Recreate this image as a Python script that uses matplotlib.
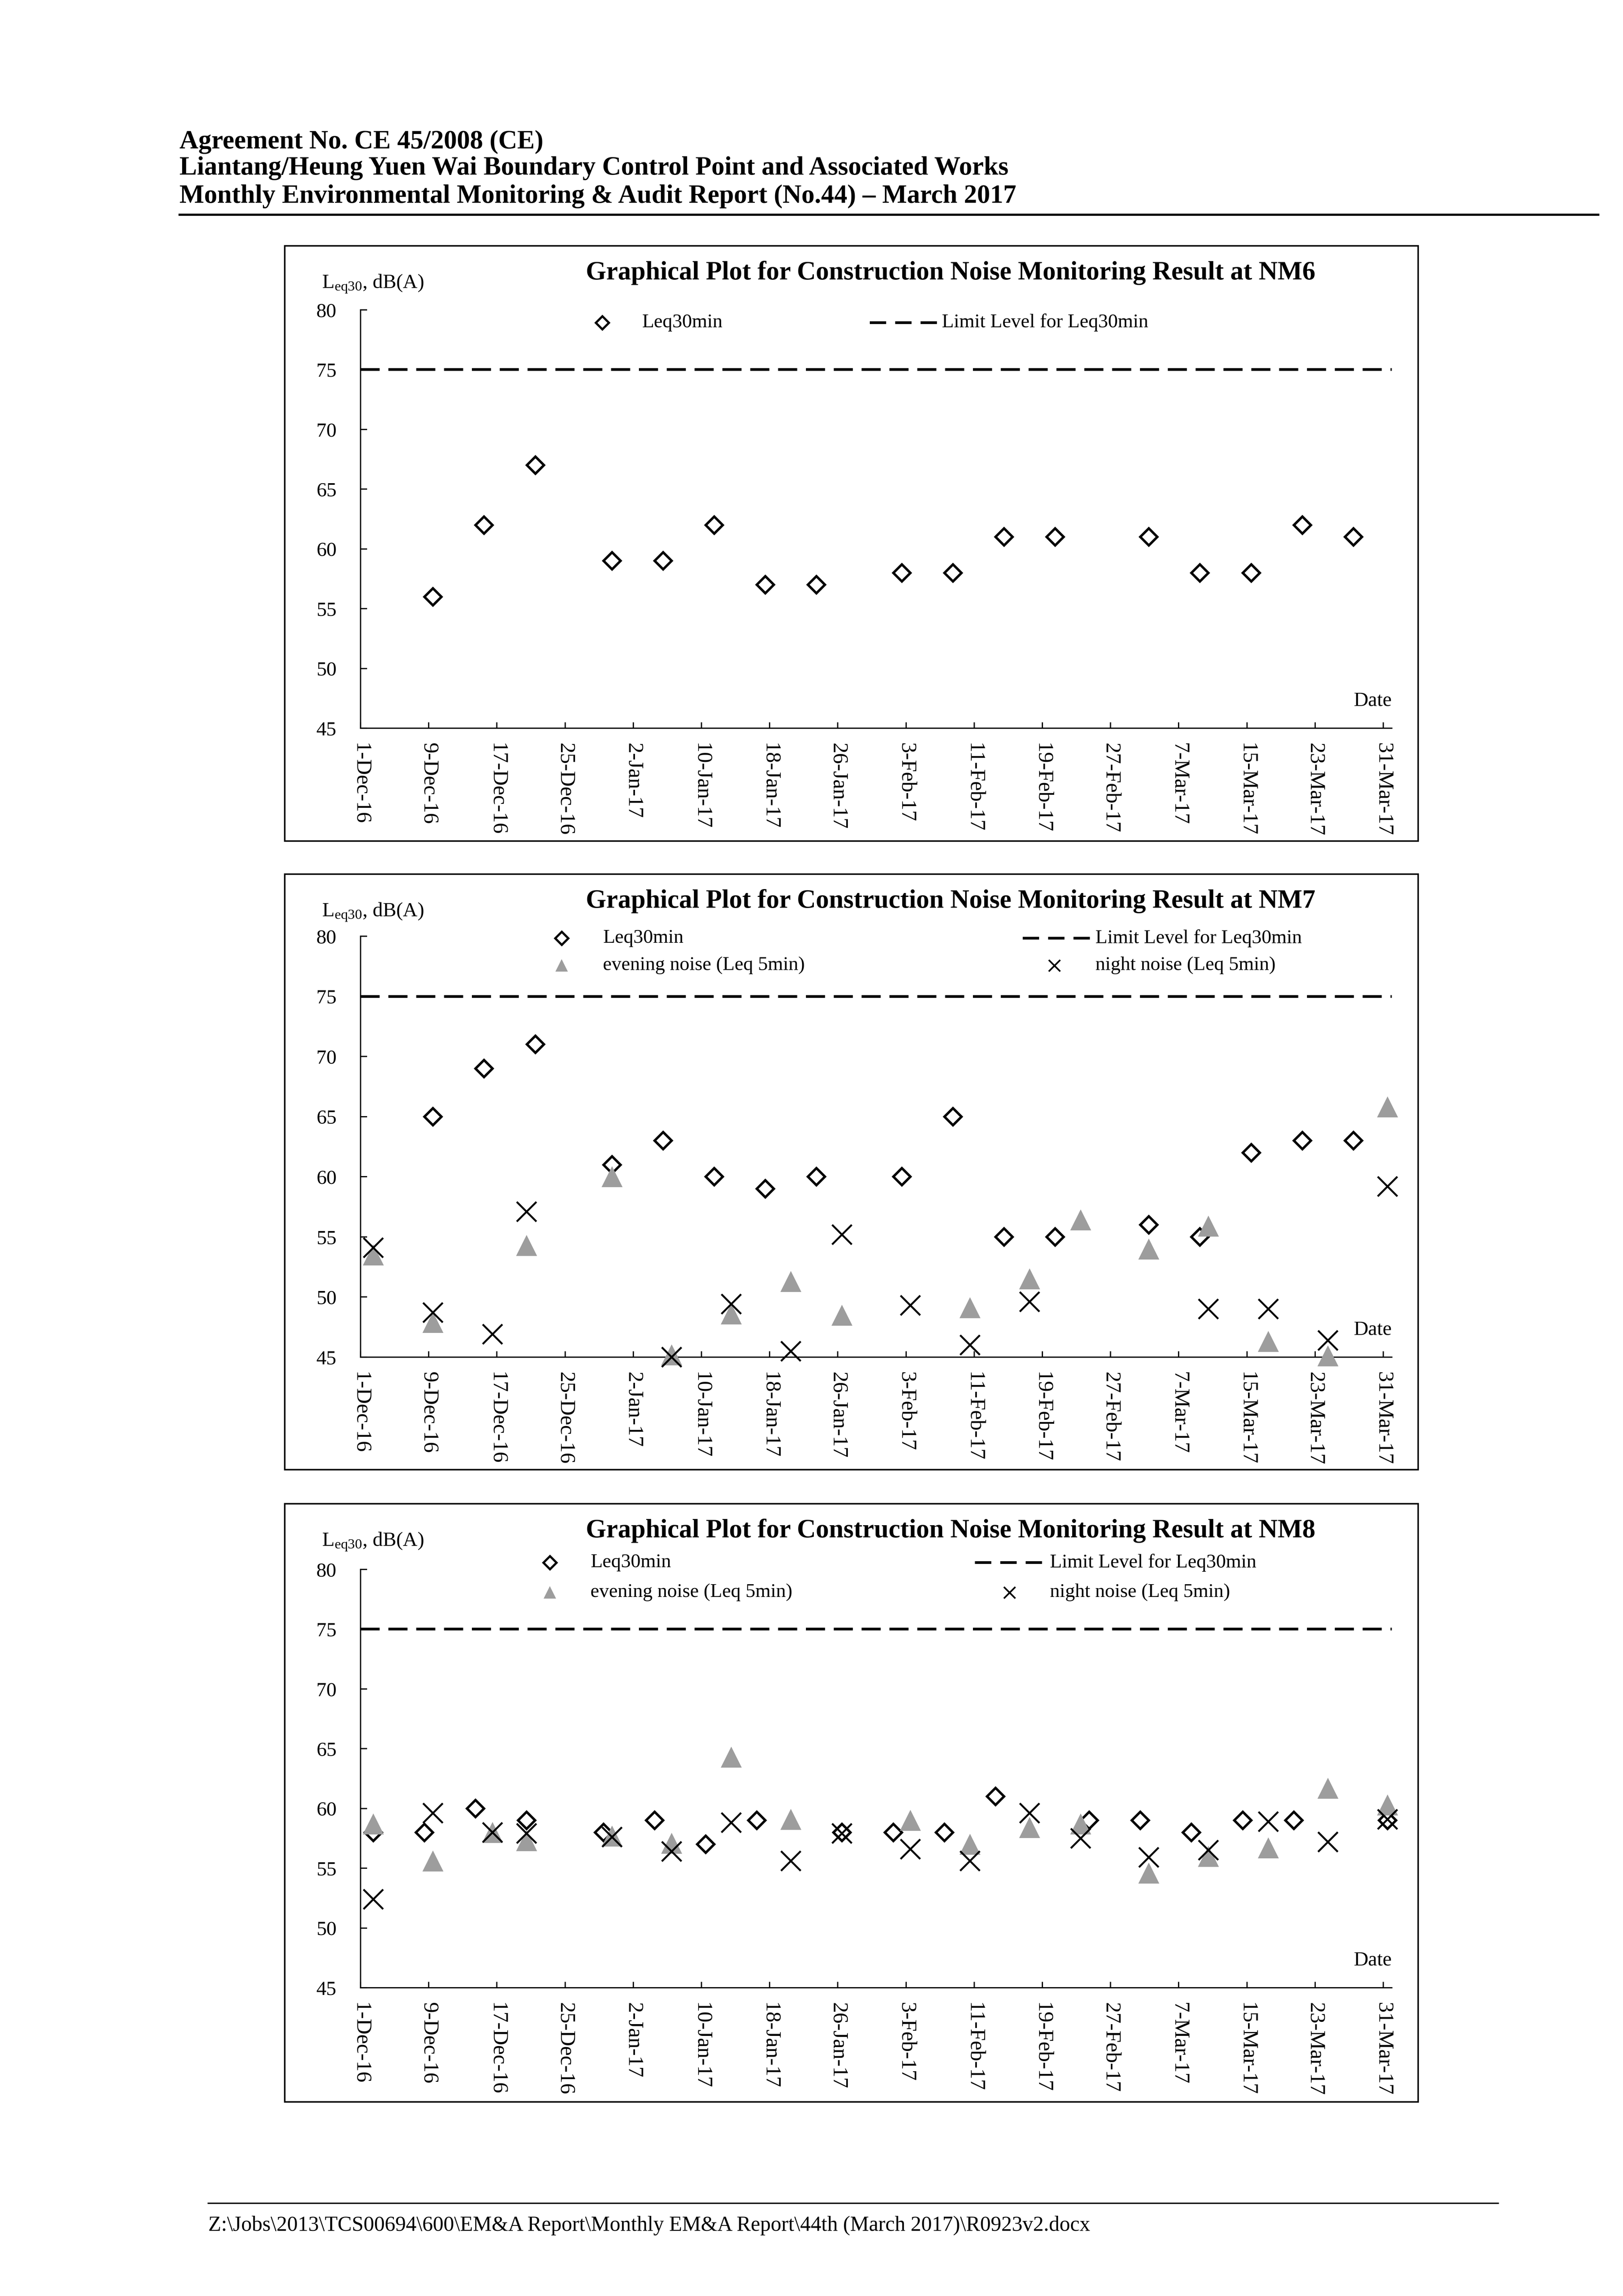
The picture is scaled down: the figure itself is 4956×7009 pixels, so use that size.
import numpy as np
import matplotlib
matplotlib.use("Agg")
import matplotlib.pyplot as plt
from matplotlib.lines import Line2D
from matplotlib.patches import Rectangle

plt.rcParams['font.family'] = ['Liberation Serif', 'DejaVu Serif']
plt.rcParams['mathtext.fontset'] = 'custom'
plt.rcParams['mathtext.rm'] = 'Liberation Serif'
plt.rcParams['mathtext.it'] = 'Liberation Serif:italic'

# ---- data ----
leq_dates_67 = ["2016-12-09", "2016-12-15", "2016-12-21", "2016-12-30", "2017-01-05", "2017-01-11",
                "2017-01-17", "2017-01-23", "2017-02-02", "2017-02-08", "2017-02-14", "2017-02-20",
                "2017-03-03", "2017-03-09", "2017-03-15", "2017-03-21", "2017-03-27"]
nm6_leq30 = [56, 62, 67, 59, 59, 62, 57, 57, 58, 58, 61, 61, 61, 58, 58, 62, 61]
nm7_leq30 = [65, 69, 71, 61, 63, 60, 59, 60, 60, 65, 55, 55, 56, 55, 62, 63, 63]

nm7_eve_dates = ["2016-12-02", "2016-12-09", "2016-12-20", "2016-12-30", "2017-01-06", "2017-01-13",
                 "2017-01-20", "2017-01-26", "2017-02-10", "2017-02-17", "2017-02-23", "2017-03-03",
                 "2017-03-10", "2017-03-17", "2017-03-24", "2017-03-31"]
nm7_eve = [53.5, 47.9, 54.3, 60.0, 45.2, 48.6, 51.3, 48.5, 49.1, 51.5, 56.4, 54.0, 55.9, 46.3, 45.1, 65.8]

nm7_night_dates = ["2016-12-02", "2016-12-09", "2016-12-16", "2016-12-20", "2017-01-06", "2017-01-13",
                   "2017-01-20", "2017-01-26", "2017-02-03", "2017-02-10", "2017-02-17", "2017-03-10",
                   "2017-03-17", "2017-03-24", "2017-03-31"]
nm7_night = [54.1, 48.7, 46.9, 57.1, 45.0, 49.4, 45.5, 55.2, 49.3, 46.0, 49.6, 49.0, 49.0, 46.4, 59.2]

nm8_leq_dates = ["2016-12-02", "2016-12-08", "2016-12-14", "2016-12-20", "2016-12-29", "2017-01-04",
                 "2017-01-10", "2017-01-16", "2017-01-26", "2017-02-01", "2017-02-07", "2017-02-13",
                 "2017-02-24", "2017-03-02", "2017-03-08", "2017-03-14", "2017-03-20", "2017-03-31"]
nm8_leq30 = [58, 58, 60, 59, 58, 59, 57, 59, 58, 58, 58, 61, 59, 59, 58, 59, 59, 59]

nm8_eve_dates = ["2016-12-02", "2016-12-09", "2016-12-16", "2016-12-20", "2016-12-30", "2017-01-06",
                 "2017-01-13", "2017-01-20", "2017-02-03", "2017-02-10", "2017-02-17", "2017-02-23",
                 "2017-03-03", "2017-03-10", "2017-03-17", "2017-03-24", "2017-03-31"]
nm8_eve = [58.7, 55.6, 58.0, 57.3, 57.7, 57.1, 64.3, 59.1, 59.0, 57.0, 58.4, 58.7, 54.6, 56.0, 56.7, 61.7, 60.3]

nm8_night_dates = ["2016-12-02", "2016-12-09", "2016-12-16", "2016-12-20", "2016-12-30", "2017-01-06",
                   "2017-01-13", "2017-01-20", "2017-01-26", "2017-02-03", "2017-02-10", "2017-02-17",
                   "2017-02-23", "2017-03-03", "2017-03-10", "2017-03-17", "2017-03-24", "2017-03-31"]
nm8_night = [52.4, 59.6, 58.0, 57.9, 57.6, 56.4, 58.8, 55.6, 57.9, 56.6, 55.6, 59.6, 57.5, 55.9, 56.5, 58.9, 57.2, 59.1]

limit_level = 75
y_ticks = [45, 50, 55, 60, 65, 70, 75, 80]

W, H = 4956, 7009
fig = plt.figure(figsize=(W / 600, H / 600), dpi=600)


def fx(px):
    return px / W


def fy(py):
    return 1 - py / H


def to_dt(dates):
    # points sit about half a day past the date in the original chart
    return np.array(dates, dtype='datetime64[D]') + np.timedelta64(12, 'h')


start = np.datetime64('2016-12-01')
tick_days = start + np.arange(0, 121, 8).astype('timedelta64[D]')
tick_labels = []
for d in tick_days.astype(object):
    tick_labels.append(f"{d.day}-{d.strftime('%b-%y')}")

# header
hdr = ["Agreement No. CE 45/2008 (CE)",
       "Liantang/Heung Yuen Wai Boundary Control Point and Associated Works",
       "Monthly Environmental Monitoring & Audit Report (No.44) \u2013 March 2017"]
for txt, yy in zip(hdr, [434, 514, 599]):
    fig.text(fx(548), fy(yy), txt, fontsize=9.6, fontweight='bold', ha='left', va='center')
fig.add_artist(Line2D([fx(548), fx(4880)], [fy(655), fy(655)], color='black', lw=0.8,
                      transform=fig.transFigure))

# footer
fig.add_artist(Line2D([fx(636), fx(4575)], [fy(6726), fy(6726)], color='black', lw=0.5,
                      transform=fig.transFigure))
fig.text(fx(636), fy(6794),
         "Z:\\Jobs\\2013\\TCS00694\\600\\EM&A Report\\Monthly EM&A Report\\44th (March 2017)\\R0923v2.docx",
         fontsize=7.75, ha='left', va='center')

panels = [
    dict(name="NM6", box=(750, 2567), axy=(946, 2223), leq=(leq_dates_67, nm6_leq30),
         eve=None, night=None, rows=[985], cols=(1839, 1960, 2656, 2864, 2876)),
    dict(name="NM7", box=(2668, 4486), axy=(2858, 4143), leq=(leq_dates_67, nm7_leq30),
         eve=(nm7_eve_dates, nm7_eve), night=(nm7_night_dates, nm7_night), rows=[2864, 2947],
         cols=(1715, 1841, 3123, 3329, 3345, 3219)),
    dict(name="NM8", box=(4590, 6416), axy=(4791, 6068), leq=(nm8_leq_dates, nm8_leq30),
         eve=(nm8_eve_dates, nm8_eve), night=(nm8_night_dates, nm8_night), rows=[4770, 4861],
         cols=(1679, 1803, 2977, 3194, 3206, 3082)),
]

tri_col = '#9d9d9d'
ax_left, ax_right = 1101, 4250

for p in panels:
    top, bot = p['box']
    fig.add_artist(Rectangle((fx(869), fy(bot)), fx(4330) - fx(869), (bot - top) / H,
                             fill=False, ec='black', lw=0.55, transform=fig.transFigure))
    a_top, a_bot = p['axy']
    ax = fig.add_axes([fx(ax_left), fy(a_bot), (ax_right - ax_left) / W, (a_bot - a_top) / H])
    ax.set_xlim(start, start + np.timedelta64(121, 'D'))
    ax.set_ylim(45, 80)
    for s in ['top', 'right']:
        ax.spines[s].set_visible(False)
    for s in ['left', 'bottom']:
        ax.spines[s].set_linewidth(0.45)
    ax.set_yticks(y_ticks)
    ax.set_xticks(tick_days)
    ax.set_xticklabels(tick_labels, rotation=270, ha='center', va='top', fontsize=7.9)
    ax.tick_params(axis='y', direction='in', length=2.4, width=0.45, pad=8.8, labelsize=7.4)
    ax.tick_params(axis='x', direction='in', length=2.2, width=0.45, pad=5.4)
    ax.patch.set_visible(False)

    ax.axhline(limit_level, color='black', lw=1.0, dashes=(7, 3.2), zorder=2)
    d, v = p['leq']
    ax.plot(to_dt(d), v, ls='none', marker='D', ms=4.4, mfc='white', mec='black', mew=0.9,
            zorder=3, clip_on=False)
    if p['eve'] is not None:
        d, v = p['eve']
        ax.plot(to_dt(d), v, ls='none', marker='^', ms=7.6, mfc=tri_col, mec='none',
                zorder=4, clip_on=False)
    if p['night'] is not None:
        d, v = p['night']
        ax.plot(to_dt(d), v, ls='none', marker='x', ms=7.1, mec='black', mew=0.7,
                zorder=5, clip_on=False)

    ax.text(1.0, 83 / (a_bot - a_top), "Date", transform=ax.transAxes,
            ha='right', va='center', fontsize=7.4)

    # title and y label
    fig.text(fx(2903), fy(top + 83), "Graphical Plot for Construction Noise Monitoring Result at " + p['name'],
             fontsize=9.6, fontweight='bold', ha='center', va='center')
    fig.text(fx(983), fy(top + 117), "L$_{\\mathrm{eq30}}$, dB(A)", fontsize=7.4, ha='left', va='center')

    # legend
    c = p['cols']
    r1 = p['rows'][0]
    fig.add_artist(Line2D([fx(c[0])], [fy(r1)], ls='none', marker='D', ms=3.4, mfc='white',
                          mec='black', mew=0.8, transform=fig.transFigure))
    fig.text(fx(c[1]), fy(r1), "Leq30min", fontsize=7.2, ha='left', va='center')
    fig.add_artist(Line2D([fx(c[2]), fx(c[3])], [fy(r1), fy(r1)], color='black', lw=1.0,
                          dashes=(6, 3.3), transform=fig.transFigure))
    fig.text(fx(c[4]), fy(r1), "Limit Level for Leq30min", fontsize=7.2, ha='left', va='center')
    if len(p['rows']) > 1:
        r2 = p['rows'][1]
        fig.add_artist(Line2D([fx(c[0])], [fy(r2)], ls='none', marker='^', ms=4.5, mfc=tri_col,
                              mec='none', transform=fig.transFigure))
        fig.text(fx(c[1]), fy(r2), "evening noise (Leq 5min)", fontsize=7.2, ha='left', va='center')
        fig.add_artist(Line2D([fx(c[5])], [fy(r2)], ls='none', marker='x', ms=4.2, mec='black',
                              mew=0.6, transform=fig.transFigure))
        fig.text(fx(c[4]), fy(r2), "night noise (Leq 5min)", fontsize=7.2, ha='left', va='center')

fig.savefig("out.png", dpi=600, facecolor='white')
